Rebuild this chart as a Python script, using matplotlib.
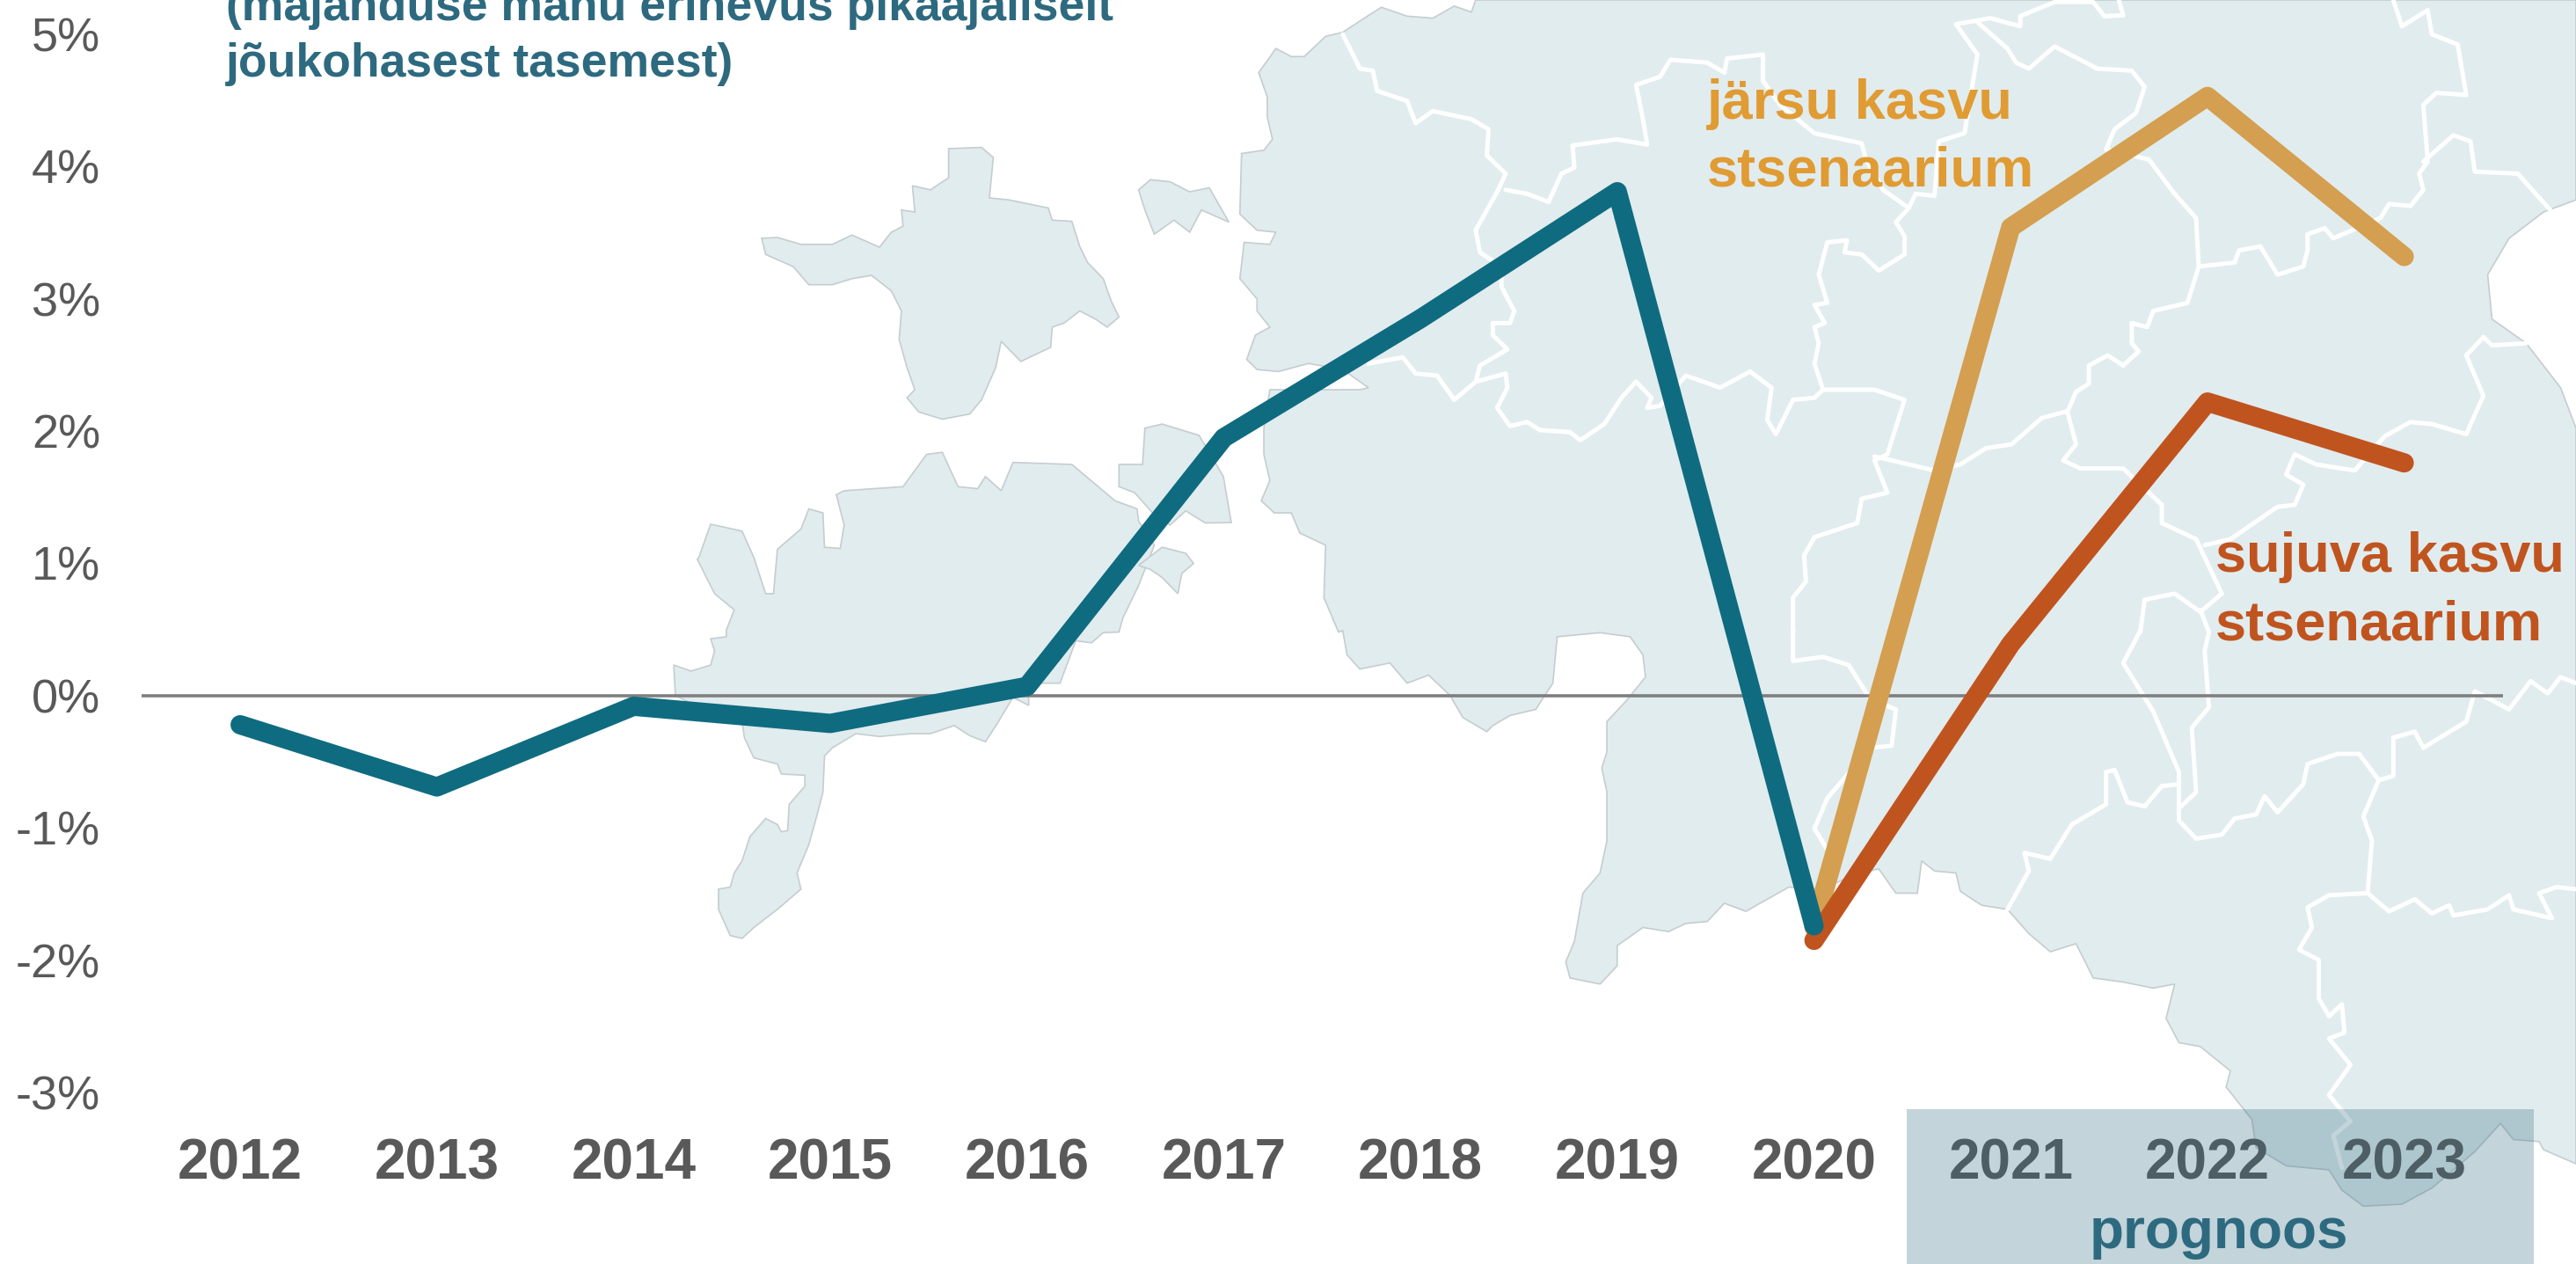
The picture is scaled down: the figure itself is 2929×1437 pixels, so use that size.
import matplotlib
matplotlib.use("Agg")
import matplotlib.pyplot as plt
from matplotlib.patches import Polygon, Rectangle

plt.rcParams['font.family'] = ['Liberation Sans', 'DejaVu Sans']

# ---------- data ----------
years = [2012, 2013, 2014, 2015, 2016, 2017, 2018, 2019, 2020, 2021, 2022, 2023]
output_gap = [-0.22, -0.69, -0.08, -0.21, 0.07, 1.95, 2.85, 3.81, -1.74]
fast_years = [2020, 2021, 2022, 2023]
fast_growth = [-1.75, 3.54, 4.53, 3.32]
smooth_years = [2020, 2021, 2022, 2023]
smooth_growth = [-1.85, 0.39, 2.22, 1.76]
y_ticks = [-3, -2, -1, 0, 1, 2, 3, 4, 5]
y_labels = ['-3%', '-2%', '-1%', '0%', '1%', '2%', '3%', '4%', '5%']

W, H, DPI = 2929, 1437, 100
GREY, TEAL, OCHRE, RUST = '#595959', '#0f6b80', '#d49f50', '#c0541f'
TITLE = '#2d6a80'
LAND, COAST = '#e1ecee', '#c5cdd0'

# ---------- decorative background map (traced, in picture pixels) ----------
def z1(p): return [(x / 1.12, y / 2.178) for x, y in p]
def z4(p): return [(x / 1.12, 717 + y / 2.178) for x, y in p]
def z2(p): return [(1400 + x / 1.0255, y / 2.178) for x, y in p]
def z3(p): return [(1400 + x / 1.0255, 717 + y / 2.178) for x, y in p]

hiiumaa = z1([(970,590),(990,588),(1020,605),(1060,605),(1085,582),(1120,612),(1135,575),(1150,560),(1148,520),(1165,525),(1162,460),(1185,470),(1208,440),(1208,368),(1250,365),(1265,390),(1260,490),(1285,495),(1335,515),(1340,545),(1365,548),(1375,610),(1385,650),(1405,690),(1415,745),(1425,785),(1410,810),(1395,790),(1375,770),(1355,800),(1340,810),(1338,860),(1300,895),(1275,845),(1268,910),(1250,990),(1235,1025),(1200,1038),(1170,1020),(1155,985),(1165,965),(1155,910),(1145,840),(1148,770),(1135,720),(1110,682),(1085,690),(1060,705),(1030,705),(1010,660),(975,630)])
vormsi = z1([(1450,470),(1465,445),(1490,450),(1515,475),(1540,465),(1565,550),(1530,520),(1515,575),(1495,545),(1470,580),(1458,520)])
saaremaa = z1([(890,1380),(905,1298),(945,1315),(960,1380),(975,1470),(985,1470),(990,1360),(1020,1310),(1030,1260),(1048,1270),(1050,1355),(1070,1358),(1075,1300),(1065,1225),(1075,1215),(1150,1205),(1180,1125),(1200,1120),(1220,1205),(1245,1210),(1255,1180),(1275,1215),(1290,1145),(1365,1150),(1420,1240),(1448,1260),(1450,1290),(1470,1350),(1450,1450),(1430,1530),(1425,1565)]) + z4([(1405,5),(1390,30),(1370,25),(1350,130),(1310,130),(1310,185),(1290,165),(1270,230),(1255,275),(1235,260),(1215,235),(1185,255),(1160,255),(1120,262),(1090,255),(1060,290),(1050,310),(1048,400),(1040,460),(1030,530),(1015,600),(1020,640),(990,690),(960,735),(945,762),(930,755),(915,690),(915,640),(930,635),(935,600),(945,570),(955,510),(975,465),(990,480),(995,498),(1003,495),(1005,430),(1025,385),(1025,358),(995,355),(990,330),(960,315),(948,265),(945,225),(880,180),(860,160),(858,85),(880,100),(905,85),(910,50),(905,20),(925,15)]) + z1([(925,1560),(935,1510),(910,1470),(888,1385)])
muhu = z1([(1425,1180),(1425,1150),(1455,1150),(1458,1060),(1480,1050),(1527,1078),(1558,1180),(1568,1294),(1535,1295),(1510,1265),(1490,1300),(1470,1275),(1445,1220),(1425,1205)])
islet = z1([(1450,1400),(1480,1355),(1510,1370),(1520,1395),(1505,1420),(1500,1470),(1480,1430),(1465,1410)])
mainland = z2([(285,0),(280,30),(260,15),(235,45),(205,40),(175,18),(155,45),(130,80),(110,90),(85,140),(70,140),(52,120),(32,180),(42,240),(42,290),(48,345),(38,372),(12,380),(10,530),(30,570),(52,575),(45,605),(15,600),(10,690),(30,740),(30,770),(45,810),(28,830),(18,890),(30,915),(55,920),(90,900),(130,915),(160,960),(150,965),(45,965),(38,1060),(38,1125),(45,1190),(35,1240),(50,1270),(70,1270),(80,1320),(110,1350),(108,1480),(125,1565)]) + z3([(130,0),(135,60),(150,95),(185,80),(205,130),(230,110),(255,160),(270,215),(298,250),(305,235),(325,210),(355,195),(375,130),(380,15),(430,5),(465,15),(480,60),(483,115),(460,175),(438,225),(438,300),(432,340),(438,400),(438,520),(430,600),(410,650),(400,770),(390,820),(395,860),(430,875),(450,830),(450,780),(480,735),(510,745),(530,725),(555,720),(575,675),(600,695),(650,635),(690,640),(730,600),(755,590),(775,650),(800,650),(805,570),(820,595),(845,600),(850,645),(875,680),(905,690),(930,750),(955,795),(985,775),(1005,860),(1040,870),(1075,885),(1100,875),(1090,960),(1105,1020),(1130,1030),(1165,1090),(1160,1130),(1190,1210),(1195,1280),(1230,1325),(1280,1335),(1295,1385),(1320,1425),(1365,1420),(1400,1380),(1450,1290),(1480,1220),(1495,1260),(1525,1265),(1530,1285),(1568,1320)]) + z2([(1568,1060),(1550,960),(1510,850),(1470,790),(1465,680),(1490,590),(1530,525),(1568,495),(1568,0)])

borders = [
 z2([(130,85),(150,170),(165,175),(170,225),(205,250),(215,305),(235,275),(280,295),(300,320),(298,385),(320,430),(310,475),(285,570),(290,625),(315,660),(315,710),(330,770),(325,800),(305,800),(305,830),(322,865),(290,905),(285,945),(320,925),(322,960),(310,1010),(325,1055),(345,1045),(360,1065),(395,1070),(407,1090),(435,1050),(455,985),(472,945),(490,985),(485,1010),(500,1005),(530,930),(570,960),(605,920),(630,960),(625,1040),(635,1075),(655,990),(680,985),(690,965),(750,965),(785,990),(765,1125),(750,1140),(765,1220),(735,1235),(730,1295),(680,1330),(668,1375),(670,1440),(655,1480),(655,1565)]) + z3([(655,0),(655,75),(690,65),(720,85),(745,170),(775,195),(770,285),(745,290),(695,415),(680,490),(700,560)]),
 z2([(160,900),(200,885),(215,925),(240,930),(260,990),(285,945)]),
 z2([(320,470),(345,480),(370,500),(385,430),(400,415),(398,360),(450,345),(485,358),(480,295),(472,210),(500,190),(512,148),(555,155),(575,180),(578,145),(620,135),(620,200),(640,260),(680,330),(735,355),(740,395),(760,470),(790,515),(775,550),(785,585),(785,630),(755,670),(735,630),(715,625),(718,595),(695,600),(685,680),(695,750),(680,755),(692,800),(680,810),(685,850),(680,900),(690,965)]),
 z2([(790,515),(798,480),(820,485),(825,350),(855,330),(870,135),(845,60),(885,45),(920,65),(920,40),(960,5),(1005,5),(1018,40),(1040,38),(1035,0)]),
 z2([(870,55),(905,120),(915,155),(930,170),(960,115),(1010,170),(1050,175),(1065,215),(1055,280),(1030,320),(1020,370),(1070,395),(1100,480),(1125,540),(1128,660),(1115,750),(1075,770),(1068,810),(1050,800),(1050,850),(1058,870),(1040,905),(1022,880),(1000,905),(1000,950),(985,970),(975,1020),(985,1100),(970,1140),(990,1160),(1040,1160),(1085,1250)]),
 z2([(1128,660),(1170,650),(1175,620),(1200,610),(1220,680),(1250,660),(1255,620),(1255,580),(1275,565),(1285,590),(1340,540),(1350,505),(1375,510),(1390,470),(1385,430),(1395,400),(1390,260),(1405,230),(1440,235),(1430,110),(1400,85),(1395,25),(1365,65),(1355,0)]),
 z2([(1390,400),(1425,335),(1445,350),(1450,425),(1500,430),(1538,520)]),
 z2([(750,1130),(820,1165),(850,1150),(880,1110),(910,1100),(945,1035),(975,1018)]),
 z2([(1085,1250),(1085,1295),(1125,1335),(1135,1380),(1155,1470),(1130,1515),(1100,1470),(1065,1485),(1060,1565)]) + z3([(1060,0),(1040,80),(1075,200),(1095,300),(1105,350),(1105,470),(1125,515),(1155,505),(1170,465),(1195,455),(1205,410),(1220,450),(1250,380),(1255,330),(1290,305),(1315,305),(1338,370),(1355,360),(1355,265),(1380,250),(1390,290),(1440,225),(1450,150),(1490,195),(1515,125),(1535,155),(1550,115),(1568,130)]),
 z2([(1130,1510),(1140,1565)]) + z3([(1135,50),(1140,190),(1120,240),(1125,400),(1105,440)]),
 z3([(1105,380),(1085,385),(1065,435),(1045,425),(1030,345),(1020,350),(1020,430),(980,480),(955,565),(925,550),(930,595),(905,690)]),
 z2([(1135,1350),(1165,1335),(1220,1255),(1240,1250),(1250,1200),(1230,1175),(1240,1125),(1265,1150),(1310,1165),(1345,1080),(1375,1045),(1400,1050),(1440,1075),(1460,980),(1440,880),(1460,835),(1470,855),(1510,850)]),
 z3([(1338,370),(1320,460),(1330,520),(1325,650),(1280,655),(1255,685),(1260,735),(1245,790),(1268,815),(1268,910),(1280,955),(1295,925),(1298,995),(1280,1010),(1305,1075),(1280,1150),(1305,1215),(1285,1250),(1295,1330)]),
 z3([(1325,650),(1350,695),(1380,665),(1400,700),(1420,680),(1425,705),(1465,690),(1490,655),(1495,690),(1540,712),(1525,650),(1545,635),(1568,640)]),
]

fig = plt.figure(figsize=(W / DPI, H / DPI), dpi=DPI, facecolor='white')

def pixel_axes(z):
    a = fig.add_axes([0, 0, 1, 1], zorder=z)
    a.set_xlim(0, W); a.set_ylim(H, 0); a.axis('off')
    a.patch.set_alpha(0)
    return a

bg = pixel_axes(0)
for shape in (hiiumaa, vormsi, saaremaa, muhu, islet, mainland):
    bg.add_patch(Polygon(shape, closed=True, facecolor=LAND, edgecolor=COAST, linewidth=1.2))
for b in borders:
    xs, ys = zip(*b)
    bg.plot(xs, ys, color='white', lw=3.6, solid_joinstyle='round', solid_capstyle='round')

# ---------- chart ----------
x_left, x_right = 161.2, 2845.5
y_top, y_bottom = 39.0, 1242.0
ax = fig.add_axes([x_left / W, 1 - y_bottom / H, (x_right - x_left) / W, (y_bottom - y_top) / H], zorder=1)
ax.patch.set_alpha(0)
ax.set_xlim(-0.5, len(years) - 0.5)
ax.set_ylim(-3, 5)
for s in ax.spines.values():
    s.set_visible(False)

pos = {y: i for i, y in enumerate(years)}
ax.axhline(0, color='#7f7f7f', lw=2.6, zorder=1)
style = dict(lw=15.8, solid_capstyle='round', solid_joinstyle='round')
ax.plot([pos[y] for y in fast_years], fast_growth, color=OCHRE, zorder=2, **style)
ax.plot([pos[y] for y in smooth_years], smooth_growth, color=RUST, zorder=3, **style)
ax.plot(range(len(output_gap)), output_gap, color=TEAL, zorder=4, **style)

ax.set_yticks(y_ticks, y_labels, fontsize=39, color=GREY)
ax.set_xticks(range(len(years)), [str(y) for y in years], fontsize=46, fontweight='bold', color=GREY)
ax.tick_params(axis='y', length=0, pad=34)
ax.tick_params(axis='x', length=0, pad=37)

# ---------- overlay: forecast band and texts ----------
top = pixel_axes(2)
top.add_patch(Rectangle((2168, 1261), 713, H - 1261, facecolor='#326e82', alpha=0.29, edgecolor='none'))
top.text(2523, 1419.5, 'prognoos', fontsize=46, fontweight='bold', color=TITLE, ha='center', va='baseline')
top.text(257, 23, '(majanduse mahu erinevus pikaajaliselt', fontsize=38.5, fontweight='bold', color=TITLE, va='baseline')
top.text(257, 87, 'jõukohasest tasemest)', fontsize=38.5, fontweight='bold', color=TITLE, va='baseline')
top.text(1941, 134.5, 'järsu kasvu', fontsize=45.5, fontweight='bold', color='#e09b33', va='baseline')
top.text(1941, 211, 'stsenaarium', fontsize=45.5, fontweight='bold', color='#e09b33', va='baseline')
top.text(2519, 650, 'sujuva kasvu', fontsize=45.5, fontweight='bold', color=RUST, va='baseline')
top.text(2519, 728, 'stsenaarium', fontsize=45.5, fontweight='bold', color=RUST, va='baseline')

fig.savefig('out.png', dpi=DPI, facecolor='white')
